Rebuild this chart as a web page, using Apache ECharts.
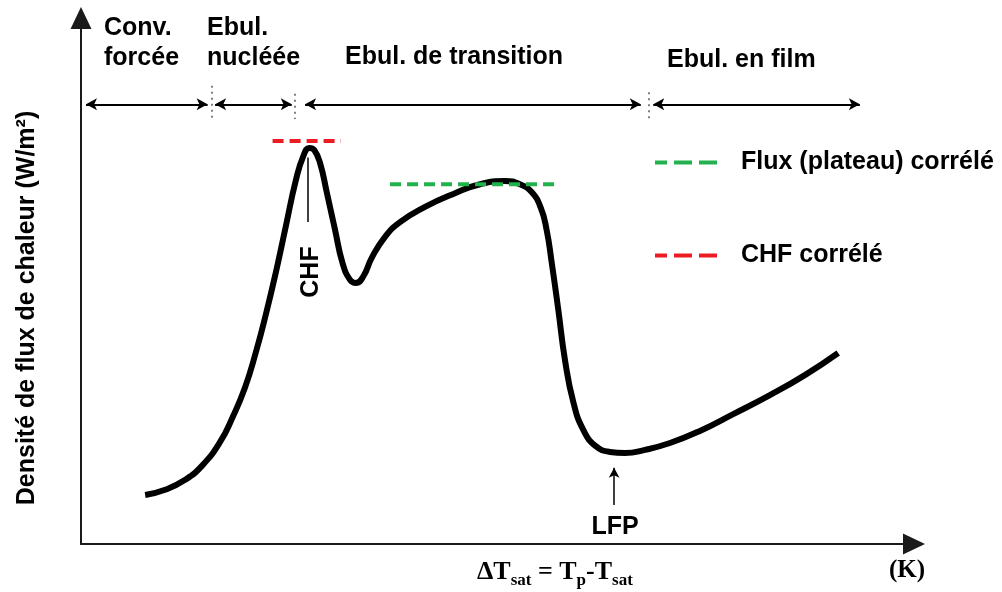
<!DOCTYPE html>
<html>
<head>
<meta charset="utf-8">
<script src="https://cdn.jsdelivr.net/npm/echarts@6/dist/echarts.min.js"></script>
<style>
  html, body { margin: 0; padding: 0; background: #fff; }
  #chart { width: 1002px; height: 592px; }
</style>
</head>
<body>
<div id="chart"></div>
<script>
// Boiling curve (schematic): heat flux density vs wall superheat, arbitrary units 0-100
const deltaT = [7.7, 10.1, 12.5, 14.6, 16.7, 18.2, 19.7, 21.0, 22.2, 23.4, 24.6, 25.8, 26.7, 27.4,
  28.0, 28.7, 29.5, 30.5, 31.4, 32.3, 33.0, 33.9, 34.9, 36.5, 38.3, 41.3, 44.9, 47.9, 50.9, 52.7,
  54.1, 55.2, 55.9, 56.5, 57.3, 58.1, 59.1, 60.3, 61.8, 63.5, 65.3, 67.7, 70.7, 74.3, 78.3, 82.7, 86.9, 90.9];
const flux = [9.3, 10.3, 12.2, 15.0, 19.4, 24.1, 29.8, 36.5, 43.7, 51.7, 60.5, 69.2, 73.8, 75.3,
  74.9, 72.4, 66.9, 59.7, 53.4, 50.2, 49.6, 50.9, 54.4, 58.4, 61.2, 64.1, 66.7, 68.4, 69.0, 68.4,
  66.9, 63.9, 59.7, 53.6, 44.5, 35.0, 27.0, 21.7, 18.6, 17.5, 17.3, 17.9, 19.2, 21.5, 24.7, 28.3, 32.1, 36.3];

// Correlated levels (dashed segments)
const chfLevel = 76.6;
const chfSpan = [23.0, 31.2];
const plateauLevel = 68.4;
const plateauSpan = [37.1, 57.3];

// Boiling regimes: double-arrow extents and dotted boundaries
const regimeArrowStart = [0.6, 16.1, 26.9, 68.7];
const regimeArrowEnd = [15.2, 25.3, 67.2, 93.5];
const regimeArrowLevel = 83.6;
const regimeBounds = [15.7, 25.7, 68.1];
const boundTop = [87.1, 85.6, 85.9];
const boundBottom = [80.8, 80.8, 80.6];

// Pointers to the critical heat flux and the Leidenfrost point
const chfMarkerX = 27.2;
const chfMarkerSpan = [73.5, 61.2];
const lfpX = 64.0;
const lfpArrowSpan = [7.4, 14.5];

const curve = deltaT.map((x, i) => [x, flux[i]]);

const arrowEnd = { symbol: 'arrow', symbolSize: [9, 11] };
const markData = [];
regimeArrowStart.forEach((x0, i) => {
  markData.push([
    Object.assign({ coord: [x0, regimeArrowLevel], lineStyle: { color: '#000', width: 1.8, type: 'solid' } }, arrowEnd),
    Object.assign({ coord: [regimeArrowEnd[i], regimeArrowLevel] }, arrowEnd)
  ]);
});
regimeBounds.forEach((x, i) => {
  markData.push([
    { coord: [x, boundTop[i]], symbol: 'none', lineStyle: { color: '#555', width: 1.5, type: [2, 4] } },
    { coord: [x, boundBottom[i]], symbol: 'none' }
  ]);
});
markData.push([
  { coord: [chfMarkerX, chfMarkerSpan[0]], symbol: 'none', lineStyle: { color: '#000', width: 1.5, type: 'solid' } },
  { coord: [chfMarkerX, chfMarkerSpan[1]], symbol: 'none' }
]);
markData.push([
  { coord: [lfpX, lfpArrowSpan[0]], symbol: 'none', lineStyle: { color: '#000', width: 1.5, type: 'solid' } },
  { coord: [lfpX, lfpArrowSpan[1]], symbol: 'arrow', symbolSize: [8, 10] }
]);

const sans = '"Liberation Sans", Arial, sans-serif';
const serif = '"Liberation Serif", "Times New Roman", serif';
const label = (text, x, y, extra) => ({
  type: 'text', x: x, y: y, silent: true,
  style: Object.assign({
    text: text, fill: '#000', fontFamily: sans, fontWeight: 'bold', fontSize: 25,
    align: 'left', verticalAlign: 'middle'
  }, extra || {})
});

const chart = echarts.init(document.getElementById('chart'), null, { renderer: 'canvas' });
chart.setOption({
  animation: false,
  backgroundColor: '#fff',
  grid: { left: 81, right: 88, top: 18, bottom: 48, containLabel: false, outerBoundsMode: 'none' },
  xAxis: {
    type: 'value', min: 0, max: 100,
    axisLine: { show: true, symbol: ['none', 'triangle'], symbolSize: [21, 22], lineStyle: { color: '#1a1a1a', width: 2 } },
    axisTick: { show: false }, axisLabel: { show: false }, splitLine: { show: false }
  },
  yAxis: {
    type: 'value', min: 0, max: 100,
    axisLine: { show: true, symbol: ['none', 'triangle'], symbolSize: [21, 22], lineStyle: { color: '#1a1a1a', width: 2 } },
    axisTick: { show: false }, axisLabel: { show: false }, splitLine: { show: false }
  },
  legend: {
    data: ['Flux (plateau) corrélé', 'CHF corrélé'],
    orient: 'vertical', left: 653, top: 150, padding: 0,
    itemWidth: 65, itemHeight: 14, itemGap: 68, selectedMode: false,
    itemStyle: { opacity: 0 },
    lineStyle: { width: 4, type: [18, 7], dashOffset: 6 },
    textStyle: { color: '#000', fontFamily: sans, fontWeight: 'bold', fontSize: 25, padding: [0, 0, 0, 16] }
  },
  series: [
    {
      name: 'Courbe d\u2019ébullition', type: 'line', data: curve, smooth: 0.5,
      symbol: 'none', z: 3,
      lineStyle: { color: '#000', width: 6 },
      markLine: { silent: true, animation: false, symbol: 'none', label: { show: false }, data: markData }
    },
    {
      name: 'Flux (plateau) corrélé', type: 'line', symbol: 'none', z: 4,
      data: plateauSpan.map(x => [x, plateauLevel]),
      lineStyle: { color: '#22b14c', width: 4, type: [11, 6] }, itemStyle: { color: '#22b14c' }
    },
    {
      name: 'CHF corrélé', type: 'line', symbol: 'none', z: 4,
      data: chfSpan.map(x => [x, chfLevel]),
      lineStyle: { color: '#ed1c24', width: 4, type: [11, 6] }, itemStyle: { color: '#ed1c24' }
    }
  ],
  graphic: [
    label('Conv.', 104, 28), label('forcée', 104, 58),
    label('Ebul.', 207, 28), label('nucléée', 207, 58),
    label('Ebul. de transition', 345, 57),
    label('Ebul. en film', 667, 60),
    Object.assign(label('CHF', 311, 272, { align: 'center' }), { rotation: Math.PI / 2 }),
    label('LFP', 615, 527, { align: 'center' }),
    Object.assign(label('Densité de flux de chaleur (W/m²)', 27, 308, { align: 'center' }), { rotation: Math.PI / 2 }),
    {
      type: 'text', x: 477, y: 572, silent: true,
      style: {
        text: '{m|\u0394T}{s|sat}{m| = T}{s|p}{m|-T}{s|sat}',
        verticalAlign: 'middle', align: 'left',
        rich: {
          m: { fontFamily: serif, fontWeight: 'bold', fontSize: 26, lineHeight: 30, fill: '#000', color: '#000' },
          s: { fontFamily: serif, fontWeight: 'bold', fontSize: 17, lineHeight: 30, fill: '#000', color: '#000', padding: [18, 0, 0, 0] }
        }
      }
    },
    label('(K)', 907, 571, { align: 'center', fontFamily: serif, fontSize: 25 })
  ]
});
</script>
</body>
</html>
